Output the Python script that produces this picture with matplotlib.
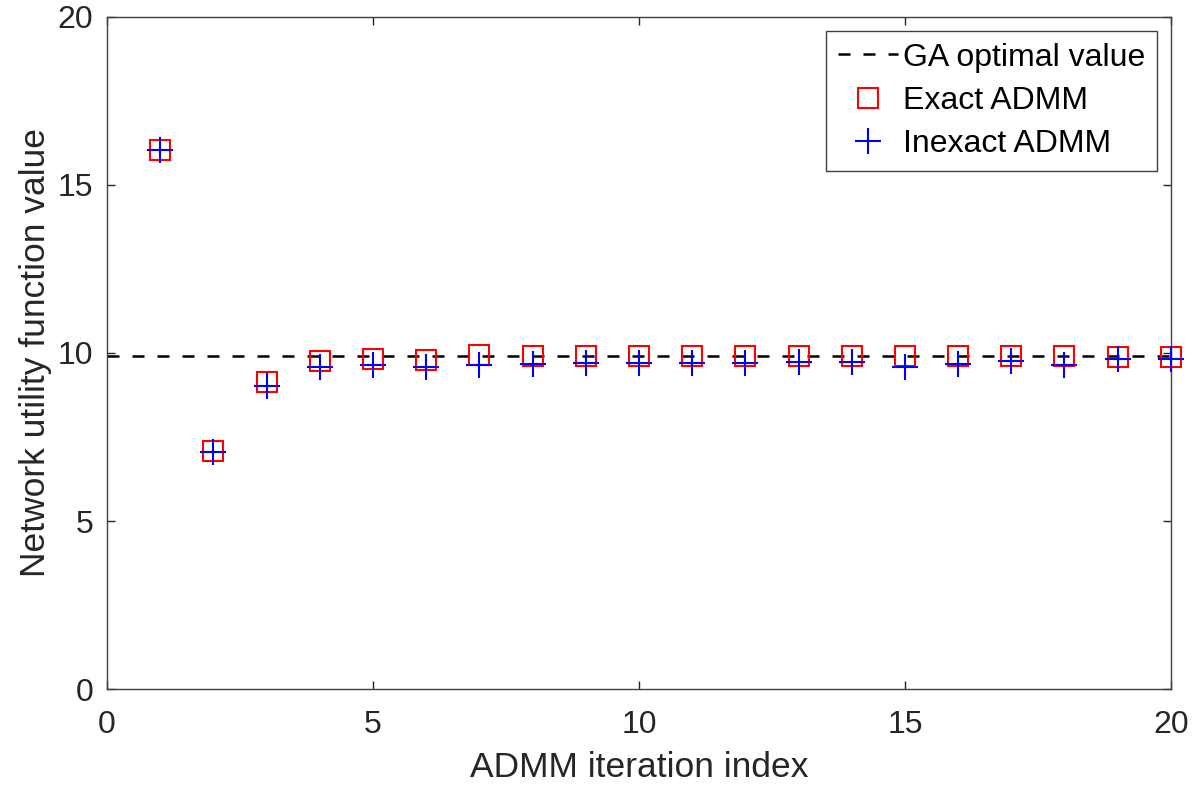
import numpy as np
from matplotlib import pyplot as plt

plt.rcParams['font.family'] = ['Liberation Sans', 'DejaVu Sans']

iters = np.arange(1, 21)
gaOptimal = 9.9
exactADMM = [16.04, 7.08, 9.15, 9.77, 9.81, 9.78, 9.94, 9.92, 9.90, 9.90,
             9.90, 9.90, 9.91, 9.91, 9.91, 9.91, 9.91, 9.91, 9.89, 9.89]
inexactADMM = [16.04, 7.04, 9.03, 9.59, 9.64, 9.57, 9.64, 9.67, 9.69, 9.69,
               9.69, 9.69, 9.74, 9.74, 9.59, 9.67, 9.77, 9.64, 9.81, 9.81]
xLimits = [0, 20]

axisColor = '#262626'

fig = plt.figure(figsize=(11.96, 7.89), dpi=100)
ax = fig.add_axes([0.0895, 0.1267, 0.8895, 0.8518])

ax.plot(xLimits, [gaOptimal, gaOptimal], color='black', linestyle='--',
        linewidth=1.8, dashes=(4.8, 5.2), label='GA optimal value')
ax.plot(iters, exactADMM, linestyle='none', marker='s', markersize=15,
        markerfacecolor='none', markeredgecolor='red', markeredgewidth=1.5,
        label='Exact ADMM', clip_on=False, zorder=3)
ax.plot(iters, inexactADMM, linestyle='none', marker='+', markersize=18.5,
        color='blue', markeredgewidth=1.5, label='Inexact ADMM',
        clip_on=False, zorder=4)

ax.set_xlim(0, 20)
ax.set_ylim(0, 20)
ax.set_xticks([0, 5, 10, 15, 20])
ax.set_yticks([0, 5, 10, 15, 20])

ax.tick_params(direction='in', length=6, width=1, top=True, right=True,
               labelsize=23, colors=axisColor)
ax.tick_params(axis='x', pad=15)
ax.tick_params(axis='y', pad=10)
for spine in ax.spines.values():
    spine.set_color('#404040')
    spine.set_linewidth(1.0)

ax.set_xlabel('ADMM iteration index', fontsize=25.5, color=axisColor, labelpad=8)
ax.set_ylabel('Network utility function value', fontsize=25.5, color=axisColor, labelpad=4)

leg = ax.legend(loc='upper right', fontsize=23, frameon=True, fancybox=False,
                framealpha=1, edgecolor='#404040', borderaxespad=0.45,
                borderpad=0.35, labelspacing=0.42, handlelength=1.9,
                handletextpad=0.15)
leg.get_frame().set_linewidth(1.0)
for t in leg.get_texts():
    t.set_color('black')

plt.savefig('out.png', dpi=100)
